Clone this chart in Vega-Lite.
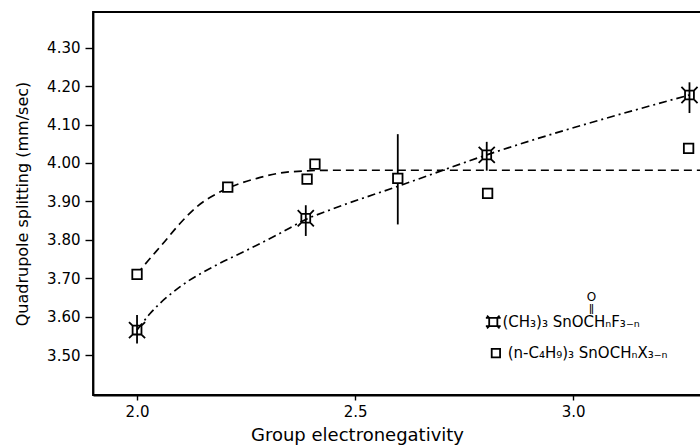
{
  "$schema": "https://vega.github.io/schema/vega-lite/v6.json",
  "autosize": "none",
  "width": 610,
  "height": 383,
  "padding": {"left": 93, "top": 12, "right": 0, "bottom": 51},
  "background": "white",
  "config": {
    "view": {"stroke": "black", "strokeWidth": 1.8},
    "font": "DejaVu Sans",
    "axis": {"grid": false, "domainColor": "black", "domainWidth": 1.8, "tickColor": "black", "tickWidth": 1.4, "labelColor": "black", "titleColor": "black", "labelFont": "DejaVu Sans", "titleFont": "DejaVu Sans", "titleFontWeight": "normal"}
  },
  "datasets": {
    "curveB": [
      {"x": 2.0, "y": 3.71}, {"x": 2.014, "y": 3.73}, {"x": 2.06, "y": 3.791}, {"x": 2.099, "y": 3.843},
      {"x": 2.137, "y": 3.886}, {"x": 2.198, "y": 3.929}, {"x": 2.275, "y": 3.96}, {"x": 2.351, "y": 3.977},
      {"x": 2.443, "y": 3.981}, {"x": 3.31, "y": 3.981}
    ],
    "curveA": [
      {"x": 2.0, "y": 3.565}, {"x": 2.03, "y": 3.608}, {"x": 2.099, "y": 3.678}, {"x": 2.175, "y": 3.73},
      {"x": 2.252, "y": 3.773}, {"x": 2.328, "y": 3.817}, {"x": 2.387, "y": 3.853}, {"x": 2.443, "y": 3.878},
      {"x": 2.6, "y": 3.94}, {"x": 2.802, "y": 4.021}, {"x": 3.267, "y": 4.177}
    ],
    "errors": [
      {"x": 2.0, "lo": 3.53, "hi": 3.604},
      {"x": 2.387, "lo": 3.81, "hi": 3.89},
      {"x": 2.802, "lo": 3.98, "hi": 4.055},
      {"x": 3.267, "lo": 4.13, "hi": 4.21},
      {"x": 2.598, "lo": 3.84, "hi": 4.075}
    ],
    "seriesB": [
      {"x": 2.0, "y": 3.71}, {"x": 2.208, "y": 3.937}, {"x": 2.39, "y": 3.958}, {"x": 2.408, "y": 3.997},
      {"x": 2.598, "y": 3.96}, {"x": 2.804, "y": 3.921}, {"x": 3.265, "y": 4.038}
    ],
    "seriesA": [
      {"x": 2.0, "y": 3.565}, {"x": 2.387, "y": 3.856}, {"x": 2.802, "y": 4.021}, {"x": 3.267, "y": 4.177}
    ],
    "legendSymA": [{"x": 2.817, "y": 3.586}],
    "legendSymB": [{"x": 2.823, "y": 3.505}],
    "legendText": [
      {"x": 2.838, "y": 3.586, "label": "(CH₃)₃ SnOCHₙF₃₋ₙ"},
      {"x": 2.85, "y": 3.505, "label": "(n-C₄H₉)₃ SnOCHₙX₃₋ₙ"}
    ],
    "legendO": [{"x": 3.042, "y": 3.634, "label": "O"}],
    "legendBond": [{"x": 3.042, "y": 3.634, "label": "ǁ"}]
  },
  "layer": [
    {
      "data": {"name": "curveB"},
      "mark": {"type": "line", "color": "black", "strokeWidth": 1.7, "strokeDash": [8, 5], "interpolate": "monotone", "clip": true},
      "encoding": {
        "x": {"field": "x", "type": "quantitative", "scale": {"domain": [1.899, 3.298], "nice": false, "zero": false},
          "axis": {"values": [2.0, 2.5, 3.0], "format": ".1f", "title": "Group  electronegativity", "labelFontSize": 15, "titleFontSize": 18, "tickSize": 5, "labelPadding": 4, "titlePadding": 7, "titleX": 264}},
        "y": {"field": "y", "type": "quantitative", "scale": {"domain": [3.396, 4.393], "nice": false, "zero": false},
          "axis": {"values": [3.5, 3.6, 3.7, 3.8, 3.9, 4.0, 4.1, 4.2, 4.3], "format": ".2f", "title": "Quadrupole splitting (mm/sec)", "labelFontSize": 15, "titleFontSize": 16, "tickSize": 8, "labelPadding": 5, "titlePadding": 16}}
      }
    },
    {
      "data": {"name": "curveA"},
      "mark": {"type": "line", "color": "black", "strokeWidth": 1.7, "strokeDash": [8, 4, 2, 4], "interpolate": "monotone", "clip": true},
      "encoding": {
        "x": {"field": "x", "type": "quantitative"},
        "y": {"field": "y", "type": "quantitative"}
      }
    },
    {
      "data": {"name": "errors"},
      "mark": {"type": "rule", "color": "black", "strokeWidth": 1.8},
      "encoding": {
        "x": {"field": "x", "type": "quantitative"},
        "y": {"field": "lo", "type": "quantitative"},
        "y2": {"field": "hi"}
      }
    },
    {
      "data": {"name": "seriesB"},
      "mark": {"type": "point", "shape": "square", "size": 90, "filled": true, "fill": "white", "stroke": "black", "strokeWidth": 1.8, "opacity": 1},
      "encoding": {
        "x": {"field": "x", "type": "quantitative"},
        "y": {"field": "y", "type": "quantitative"}
      }
    },
    {
      "data": {"name": "seriesA"},
      "mark": {"type": "point", "shape": "M-0.55,-0.55H0.55V0.55H-0.55Z M-0.55,-0.55L-1,-1 M0.55,-0.55L1,-1 M0.55,0.55L1,1 M-0.55,0.55L-1,1", "size": 260, "filled": false, "stroke": "black", "strokeWidth": 1.8, "opacity": 1},
      "encoding": {
        "x": {"field": "x", "type": "quantitative"},
        "y": {"field": "y", "type": "quantitative"}
      }
    },
    {
      "data": {"name": "legendSymA"},
      "mark": {"type": "point", "shape": "M-0.55,-0.55H0.55V0.55H-0.55Z M-0.55,-0.55L-1,-0.55 M0.55,-0.55L1,-0.55 M0.55,0.55L1,0.55 M-0.55,0.55L-1,0.55 M-0.55,-0.55L-0.85,-0.85 M0.55,-0.55L0.85,-0.85 M-0.55,0.55L-0.85,0.85 M0.55,0.55L0.85,0.85", "size": 220, "filled": false, "stroke": "black", "strokeWidth": 1.8, "opacity": 1},
      "encoding": {
        "x": {"field": "x", "type": "quantitative"},
        "y": {"field": "y", "type": "quantitative"}
      }
    },
    {
      "data": {"name": "legendSymB"},
      "mark": {"type": "point", "shape": "square", "size": 70, "filled": false, "stroke": "black", "strokeWidth": 1.8, "opacity": 1},
      "encoding": {
        "x": {"field": "x", "type": "quantitative"},
        "y": {"field": "y", "type": "quantitative"}
      }
    },
    {
      "data": {"name": "legendText"},
      "mark": {"type": "text", "align": "left", "baseline": "middle", "color": "black", "font": "DejaVu Sans", "fontSize": 15},
      "encoding": {
        "x": {"field": "x", "type": "quantitative"},
        "y": {"field": "y", "type": "quantitative"},
        "text": {"field": "label"}
      }
    },
    {
      "data": {"name": "legendO"},
      "mark": {"type": "text", "align": "center", "baseline": "bottom", "color": "black", "font": "DejaVu Sans", "fontSize": 12},
      "encoding": {
        "x": {"field": "x", "type": "quantitative"},
        "y": {"field": "y", "type": "quantitative"},
        "text": {"field": "label"}
      }
    },
    {
      "data": {"name": "legendBond"},
      "mark": {"type": "text", "align": "center", "baseline": "top", "color": "black", "font": "DejaVu Sans", "fontSize": 10},
      "encoding": {
        "x": {"field": "x", "type": "quantitative"},
        "y": {"field": "y", "type": "quantitative"},
        "text": {"field": "label"}
      }
    }
  ]
}
